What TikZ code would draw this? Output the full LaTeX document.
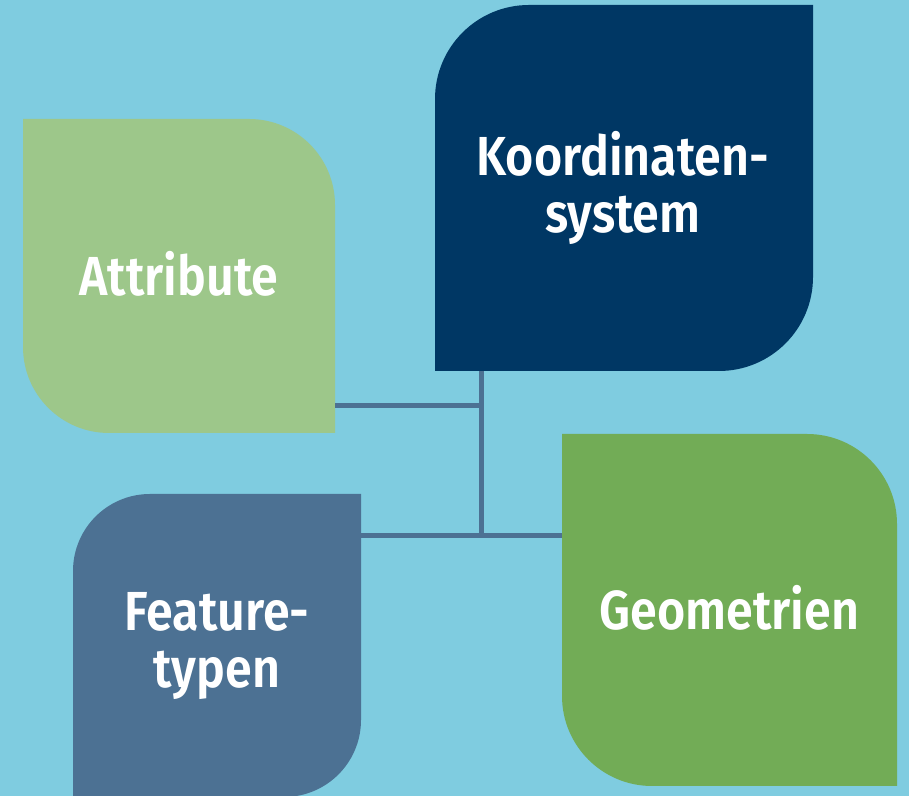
\documentclass[tikz,border=0pt]{standalone}
\usepackage{fontspec}
\setmainfont{Fira Sans}[BoldFont={Fira Sans SemiBold}, FakeStretch=0.88]
\usepackage{xcolor}
\definecolor{cbg}{HTML}{7FCCE0}
\definecolor{cattr}{HTML}{9DC78A}
\definecolor{ckoord}{HTML}{003764}
\definecolor{cfeat}{HTML}{4C7193}
\definecolor{cgeo}{HTML}{72AC56}
\definecolor{clink}{HTML}{4C7193}

\tikzset{
  boxlabel/.style={inner sep=0pt, align=center, text=white,
    font=\fontsize{27.5}{28.5}\selectfont\bfseries},
  link/.style={clink, line width=2.5pt}
}

\begin{document}
\begin{tikzpicture}[x=0.5pt,y=0.5pt]
  \useasboundingbox (0,0) rectangle (909,796);
  \fill[cbg] (0,0) rectangle (909,796);

  % Attribute -- rounded top right and bottom left
  \fill[cattr] (23+86,363) -- (335,363) -- (335,677-86)
    arc[start angle=0,end angle=90,radius=86] -- (23,677) -- (23,363+86)
    arc[start angle=180,end angle=270,radius=86] -- cycle;
  \node[boxlabel, minimum width=156pt, minimum height=157pt] (attr) at (179,522) {Attribute};

  % Koordinatensystem -- rounded top left and bottom right
  \fill[ckoord] (435,425) -- (813-94,425)
    arc[start angle=270,end angle=360,radius=94] -- (813,791) -- (435+94,791)
    arc[start angle=90,end angle=180,radius=94] -- cycle;
  \node[boxlabel, minimum width=189pt, minimum height=183pt] (koord) at (623,608) {Koordinaten-\\system};

  % Featuretypen -- rounded top left and bottom right
  \fill[cfeat] (73,-1) -- (361-77,-1)
    arc[start angle=270,end angle=360,radius=77] -- (361,302) -- (73+77,302)
    arc[start angle=90,end angle=180,radius=77] -- cycle;
  \node[boxlabel, minimum width=144pt, minimum height=151.5pt] (feat) at (217,150) {Feature-\\typen};

  % Geometrien -- rounded top right and bottom left
  \fill[cgeo] (562+90,10) -- (897,10) -- (897,362-90)
    arc[start angle=0,end angle=90,radius=90] -- (562,362) -- (562,10+90)
    arc[start angle=180,end angle=270,radius=90] -- cycle;
  \node[boxlabel, minimum width=167.5pt, minimum height=176pt] (geo) at (729.5,188) {Geometrien};

  % Connectors
  \coordinate (joint) at (481,390);
  \coordinate (hub) at (481,260);
  \draw[link] (koord.south -| hub) -- ([yshift=-1.25pt]hub);
  \draw[link] (attr.east |- joint) -- (joint);
  \draw[link] (feat.east |- hub) -- (geo.west |- hub);
\end{tikzpicture}
\end{document}
